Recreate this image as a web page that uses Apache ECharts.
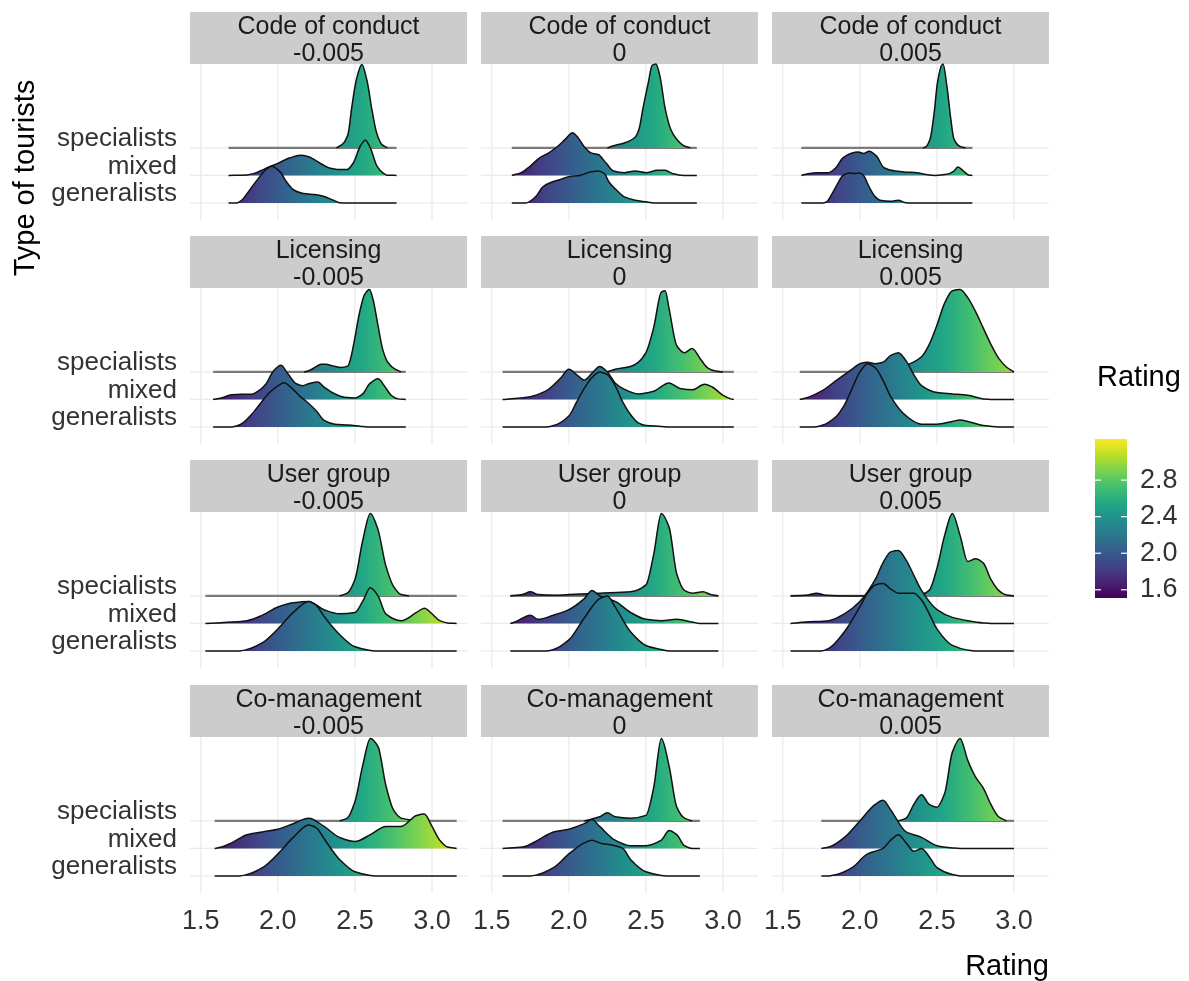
<!DOCTYPE html>
<html>
<head>
<meta charset="utf-8">
<script src="https://cdn.jsdelivr.net/npm/echarts@6/dist/echarts.min.js"></script>
<style>
html,body{margin:0;padding:0;background:#fff}
#chart{width:1189px;height:981px}
</style>
</head>
<body>
<div id="chart"></div>
<script>
// ---- categories and labels ----
const measures = ['Code of conduct', 'Licensing', 'User group', 'Co-management'];
const levels = ['-0.005', '0', '0.005'];
const groups = ['generalists', 'mixed', 'specialists'];   // ridge rows 1, 2, 3
const xTicks = [1.5, 2.0, 2.5, 3.0];
const legendTicks = [1.6, 2.0, 2.4, 2.8];
const ratingMin = 1.51, ratingMax = 3.25;

// ---- density ridges: [rating, height in row units] ----
// Code of conduct
const cocNegGen  = [[1.68,0],[1.735,0],[1.77,0.12],[1.8,0.34],[1.865,0.83],[1.93,1.25],[1.96,1.33],[2.014,1.13],[2.057,0.76],[2.1,0.48],[2.165,0.34],[2.25,0.3],[2.29,0.25],[2.36,0.1],[2.4,0.01],[2.45,0],[2.77,0]];
const cocNegMix  = [[1.68,0],[1.8,0.02],[1.85,0.08],[1.9,0.2],[1.95,0.33],[1.993,0.42],[2.04,0.55],[2.079,0.64],[2.144,0.73],[2.2,0.68],[2.229,0.6],[2.294,0.38],[2.34,0.26],[2.385,0.22],[2.45,0.22],[2.49,0.46],[2.535,1.07],[2.567,1.28],[2.6,1.0],[2.643,0.34],[2.68,0.1],[2.71,0.01],[2.77,0]];
const cocNegSpec = [[1.68,0],[2.38,0],[2.42,0.14],[2.455,0.5],[2.48,1.5],[2.51,2.5],[2.545,3.03],[2.578,2.45],[2.61,1.4],[2.64,0.56],[2.675,0.12],[2.71,0],[2.77,0]];
const coc0Gen  = [[1.63,0],[1.72,0],[1.784,0.22],[1.83,0.58],[1.89,0.76],[1.95,0.86],[2.0,0.95],[2.07,1.0],[2.144,1.13],[2.19,1.16],[2.23,1.07],[2.26,0.76],[2.31,0.46],[2.36,0.22],[2.43,0.1],[2.5,0.04],[2.55,0],[2.83,0]];
const coc0Mix  = [[1.63,0],[1.69,0.1],[1.75,0.34],[1.81,0.64],[1.87,0.82],[1.93,1.07],[1.976,1.31],[2.024,1.55],[2.06,1.37],[2.096,1.07],[2.144,0.82],[2.19,0.76],[2.24,0.46],[2.29,0.16],[2.36,0.1],[2.43,0.16],[2.5,0.1],[2.576,0.19],[2.625,0.19],[2.67,0.07],[2.745,0],[2.83,0]];
const coc0Spec = [[1.63,0],[2.25,0],[2.29,0.08],[2.36,0.18],[2.43,0.39],[2.456,0.7],[2.48,1.42],[2.516,2.39],[2.54,3.0],[2.565,3.05],[2.59,2.63],[2.625,1.42],[2.66,0.69],[2.697,0.33],[2.745,0.08],[2.79,0],[2.83,0]];
const cocPosGen  = [[1.62,0],[1.76,0],[1.784,0.04],[1.82,0.34],[1.856,0.7],[1.89,1.0],[1.93,1.09],[1.964,1.07],[2.0,1.09],[2.024,1.0],[2.06,0.58],[2.1,0.22],[2.13,0.1],[2.2,0.06],[2.25,0.1],[2.29,0.02],[2.32,0],[2.73,0]];
const cocPosMix  = [[1.62,0],[1.65,0.04],[1.72,0.1],[1.796,0.1],[1.844,0.28],[1.89,0.64],[1.94,0.8],[1.99,0.85],[2.024,0.8],[2.06,0.88],[2.108,0.7],[2.156,0.28],[2.23,0.16],[2.3,0.12],[2.37,0.1],[2.42,0.04],[2.49,0],[2.564,0.04],[2.61,0.16],[2.636,0.31],[2.672,0.16],[2.708,0.01],[2.73,0]];
const cocPosSpec = [[1.62,0],[2.41,0],[2.43,0.05],[2.456,0.33],[2.48,1.18],[2.504,2.39],[2.53,3.0],[2.54,3.05],[2.564,2.27],[2.59,1.05],[2.61,0.33],[2.65,0.05],[2.685,0],[2.73,0]];
// Licensing
const licNegGen  = [[1.58,0],[1.7,0],[1.76,0.1],[1.83,0.46],[1.89,0.88],[1.946,1.25],[2.0,1.49],[2.04,1.61],[2.087,1.43],[2.14,1.13],[2.195,0.88],[2.25,0.58],[2.3,0.24],[2.37,0.1],[2.455,0.07],[2.54,0.02],[2.58,0],[2.83,0]];
const licNegMix  = [[1.58,0],[1.632,0.05],[1.7,0.17],[1.76,0.19],[1.83,0.19],[1.88,0.33],[1.924,0.57],[1.967,1.0],[2.02,1.24],[2.065,0.93],[2.12,0.57],[2.16,0.5],[2.2,0.57],[2.26,0.63],[2.3,0.45],[2.37,0.2],[2.43,0.08],[2.5,0.05],[2.55,0.2],[2.595,0.57],[2.65,0.75],[2.69,0.5],[2.736,0.15],[2.78,0.02],[2.83,0]];
const licNegSpec = [[1.58,0],[2.17,0],[2.195,0.03],[2.24,0.16],[2.28,0.28],[2.31,0.28],[2.357,0.22],[2.41,0.16],[2.455,0.22],[2.476,0.58],[2.498,1.19],[2.53,2.16],[2.563,2.82],[2.595,3.0],[2.617,2.64],[2.65,1.67],[2.68,0.82],[2.714,0.34],[2.76,0.1],[2.8,0],[2.83,0]];
const lic0Gen  = [[1.57,0],[1.85,0],[1.9,0.05],[2.0,0.4],[2.05,0.9],[2.1,1.4],[2.15,1.8],[2.2,2.0],[2.25,1.9],[2.3,1.5],[2.35,0.9],[2.4,0.45],[2.45,0.15],[2.5,0.05],[2.6,0.02],[2.65,0],[3.07,0]];
const lic0Mix  = [[1.57,0],[1.65,0.03],[1.75,0.1],[1.85,0.3],[1.95,0.8],[2.0,1.1],[2.05,0.9],[2.1,0.7],[2.15,0.95],[2.2,1.2],[2.25,1.0],[2.3,0.6],[2.35,0.4],[2.45,0.2],[2.55,0.3],[2.65,0.6],[2.72,0.4],[2.8,0.35],[2.88,0.55],[2.93,0.45],[3.0,0.15],[3.05,0.02],[3.07,0]];
const lic0Spec = [[1.57,0],[2.25,0],[2.3,0.1],[2.4,0.2],[2.45,0.35],[2.5,0.7],[2.55,1.6],[2.6,2.9],[2.625,2.95],[2.65,2.3],[2.7,0.95],[2.75,0.7],[2.8,0.85],[2.85,0.5],[2.9,0.15],[2.95,0.03],[3.0,0],[3.07,0]];
const licPosGen  = [[1.61,0],[1.7,0],[1.75,0.05],[1.85,0.4],[1.9,0.8],[1.95,1.4],[2.0,2.0],[2.05,2.3],[2.1,2.15],[2.15,1.7],[2.2,1.1],[2.3,0.4],[2.4,0.1],[2.5,0.1],[2.6,0.2],[2.65,0.25],[2.7,0.2],[2.8,0.05],[2.9,0],[3.0,0]];
const licPosMix  = [[1.61,0],[1.65,0.05],[1.75,0.3],[1.85,0.7],[1.95,1.1],[2.0,1.3],[2.05,1.35],[2.1,1.3],[2.15,1.35],[2.2,1.6],[2.25,1.7],[2.3,1.4],[2.35,0.9],[2.4,0.5],[2.5,0.25],[2.6,0.2],[2.7,0.15],[2.8,0.02],[2.85,0],[3.0,0]];
const licPosSpec = [[1.61,0],[2.0,0],[2.1,0.05],[2.2,0.15],[2.3,0.25],[2.4,0.55],[2.45,1.0],[2.5,1.7],[2.55,2.5],[2.6,2.95],[2.65,3.0],[2.7,2.7],[2.75,2.2],[2.8,1.6],[2.85,1.0],[2.9,0.5],[2.95,0.18],[3.0,0]];
// User group
const ugNegGen  = [[1.53,0],[1.75,0],[1.8,0.05],[1.9,0.3],[2.0,0.8],[2.1,1.4],[2.2,1.8],[2.25,1.65],[2.3,1.25],[2.4,0.6],[2.5,0.15],[2.6,0.02],[2.65,0],[3.16,0]];
const ugNegMix  = [[1.53,0],[1.6,0.02],[1.7,0.05],[1.8,0.1],[1.9,0.3],[2.0,0.6],[2.1,0.75],[2.2,0.8],[2.3,0.5],[2.4,0.35],[2.5,0.4],[2.55,0.8],[2.6,1.3],[2.65,1.0],[2.7,0.35],[2.8,0.1],[2.9,0.4],[2.95,0.55],[3.0,0.35],[3.05,0.1],[3.1,0.02],[3.16,0]];
const ugNegSpec = [[1.53,0],[2.4,0],[2.45,0.1],[2.5,0.6],[2.55,2.0],[2.6,3.0],[2.65,2.4],[2.7,1.1],[2.75,0.35],[2.8,0.05],[2.85,0],[3.16,0]];
const ug0Gen  = [[1.62,0],[1.85,0],[1.9,0.05],[2.0,0.4],[2.1,1.2],[2.2,1.9],[2.25,2.0],[2.3,1.6],[2.4,0.7],[2.5,0.2],[2.6,0.05],[2.65,0],[2.97,0]];
const ug0Mix  = [[1.62,0],[1.65,0.05],[1.75,0.3],[1.8,0.15],[1.9,0.3],[2.0,0.5],[2.1,0.9],[2.15,1.2],[2.2,1.0],[2.25,0.9],[2.3,0.8],[2.4,0.4],[2.5,0.15],[2.6,0.1],[2.7,0.15],[2.8,0.05],[2.85,0],[2.97,0]];
const ug0Spec = [[1.62,0],[1.7,0.05],[1.75,0.15],[1.8,0.05],[1.9,0.02],[2.0,0.05],[2.2,0.1],[2.4,0.15],[2.5,0.4],[2.55,1.5],[2.6,3.0],[2.65,2.5],[2.7,0.8],[2.75,0.2],[2.8,0.1],[2.87,0.15],[2.92,0.05],[2.97,0]];
const ugPosGen  = [[1.55,0],[1.75,0],[1.8,0.1],[1.9,0.7],[2.0,1.6],[2.05,2.1],[2.1,2.4],[2.15,2.45],[2.2,2.25],[2.25,2.1],[2.3,2.1],[2.35,2.1],[2.4,1.85],[2.45,1.35],[2.5,0.8],[2.6,0.2],[2.7,0.03],[2.75,0],[3.0,0]];
const ugPosMix  = [[1.55,0],[1.65,0.05],[1.8,0.1],[1.9,0.35],[2.0,0.8],[2.1,1.6],[2.15,2.2],[2.2,2.6],[2.25,2.65],[2.3,2.3],[2.35,1.75],[2.4,1.2],[2.5,0.5],[2.6,0.22],[2.7,0.1],[2.8,0.02],[2.85,0],[3.0,0]];
const ugPosSpec = [[1.55,0],[1.65,0.02],[1.72,0.1],[1.78,0.02],[1.9,0],[2.3,0],[2.4,0.05],[2.45,0.2],[2.5,1.0],[2.55,2.2],[2.6,3.0],[2.65,2.2],[2.7,1.25],[2.75,1.35],[2.8,1.2],[2.85,0.6],[2.9,0.2],[2.95,0.03],[3.0,0]];
// Co-management
const cmNegGen  = [[1.59,0],[1.75,0],[1.8,0.05],[1.9,0.3],[2.0,0.8],[2.1,1.4],[2.2,1.85],[2.25,1.75],[2.3,1.35],[2.4,0.6],[2.5,0.15],[2.6,0.02],[2.65,0],[3.16,0]];
const cmNegMix  = [[1.59,0],[1.62,0.03],[1.7,0.2],[1.8,0.5],[1.9,0.6],[2.0,0.7],[2.1,0.9],[2.2,1.1],[2.3,0.8],[2.4,0.4],[2.5,0.25],[2.6,0.5],[2.7,0.8],[2.8,0.8],[2.9,1.2],[2.95,1.25],[3.0,0.8],[3.05,0.3],[3.1,0.05],[3.16,0]];
const cmNegSpec = [[1.59,0],[2.4,0],[2.45,0.1],[2.5,0.7],[2.55,2.0],[2.6,3.0],[2.65,2.7],[2.7,1.3],[2.75,0.4],[2.8,0.1],[2.9,0],[3.16,0]];
const cm0Gen  = [[1.57,0],[1.75,0],[1.8,0.05],[1.9,0.3],[2.0,0.8],[2.1,1.2],[2.15,1.3],[2.2,1.2],[2.3,1.1],[2.35,1.0],[2.4,0.6],[2.5,0.15],[2.6,0.02],[2.65,0],[2.85,0]];
const cm0Mix  = [[1.57,0],[1.7,0.05],[1.8,0.3],[1.9,0.6],[2.0,0.7],[2.1,0.9],[2.15,1.05],[2.2,0.8],[2.3,0.3],[2.4,0.1],[2.5,0.1],[2.6,0.3],[2.65,0.65],[2.7,0.5],[2.75,0.1],[2.8,0],[2.85,0]];
const cm0Spec = [[1.57,0],[2.1,0],[2.2,0.15],[2.25,0.3],[2.3,0.15],[2.4,0.1],[2.5,0.2],[2.55,1.2],[2.6,3.0],[2.65,2.0],[2.7,0.5],[2.75,0.1],[2.8,0],[2.85,0]];
const cmPosGen  = [[1.75,0],[1.8,0],[1.85,0.05],[1.95,0.3],[2.05,0.8],[2.1,0.9],[2.15,1.0],[2.2,1.3],[2.25,1.5],[2.3,1.2],[2.35,0.9],[2.4,1.0],[2.45,0.7],[2.5,0.3],[2.6,0.05],[2.65,0],[3.0,0]];
const cmPosMix  = [[1.75,0],[1.8,0.05],[1.9,0.4],[2.0,1.0],[2.1,1.6],[2.15,1.75],[2.2,1.4],[2.3,0.6],[2.35,0.5],[2.4,0.4],[2.5,0.1],[2.6,0.02],[2.65,0],[3.0,0]];
const cmPosSpec = [[1.75,0],[2.25,0],[2.3,0.1],[2.35,0.6],[2.4,0.95],[2.45,0.6],[2.5,0.5],[2.55,1.0],[2.6,2.5],[2.65,3.0],[2.7,2.2],[2.75,1.6],[2.8,1.2],[2.85,0.6],[2.9,0.15],[2.95,0],[3.0,0]];

// panels, row by row; curves ordered as in `groups`
const panelCurves = [
  [[cocNegGen, cocNegMix, cocNegSpec], [coc0Gen, coc0Mix, coc0Spec], [cocPosGen, cocPosMix, cocPosSpec]],
  [[licNegGen, licNegMix, licNegSpec], [lic0Gen, lic0Mix, lic0Spec], [licPosGen, licPosMix, licPosSpec]],
  [[ugNegGen, ugNegMix, ugNegSpec], [ug0Gen, ug0Mix, ug0Spec], [ugPosGen, ugPosMix, ugPosSpec]],
  [[cmNegGen, cmNegMix, cmNegSpec], [cm0Gen, cm0Mix, cm0Spec], [cmPosGen, cmPosMix, cmPosSpec]]
];

// ---- look ----
const viridis = ['#440154','#482475','#414487','#355f8d','#2a788e','#21918c','#22a884','#44bf70','#7ad151','#bddf26','#fde725'];
const FONT = '"Liberation Sans", Arial, sans-serif';
const colLeft = [190, 481, 772];
const panelW = 277;
const rowTop = [12, 236, 460, 685];
const stripH = 52;
const plotH = 156;
const xMin = 1.43, xMax = 3.227;
const yMin = 0.38, yMax = 6.05;

function viridisStops() {
  return viridis.map((c, i) => ({ offset: i / (viridis.length - 1), color: c }));
}

// monotone cubic path through pixel points (x increasing)
function monoPath(pts) {
  const n = pts.length;
  if (n < 2) return '';
  const dx = [], m = [];
  for (let i = 0; i < n - 1; i++) {
    dx[i] = pts[i + 1][0] - pts[i][0];
    m[i] = (pts[i + 1][1] - pts[i][1]) / dx[i];
  }
  const t = [m[0]];
  for (let i = 1; i < n - 1; i++) {
    if (m[i - 1] * m[i] <= 0) t[i] = 0;
    else t[i] = 3 * (dx[i - 1] + dx[i]) / ((2 * dx[i] + dx[i - 1]) / m[i - 1] + (dx[i] + 2 * dx[i - 1]) / m[i]);
  }
  t[n - 1] = m[n - 2];
  let d = 'M' + pts[0][0].toFixed(2) + ' ' + pts[0][1].toFixed(2);
  for (let i = 0; i < n - 1; i++) {
    const h = dx[i] / 3;
    d += ' C' + (pts[i][0] + h).toFixed(2) + ' ' + (pts[i][1] + t[i] * h).toFixed(2) + ' ' +
         (pts[i + 1][0] - h).toFixed(2) + ' ' + (pts[i + 1][1] - t[i + 1] * h).toFixed(2) + ' ' +
         pts[i + 1][0].toFixed(2) + ' ' + pts[i + 1][1].toFixed(2);
  }
  return d;
}

const grids = [], xAxes = [], yAxes = [], series = [], graphics = [];

panelCurves.forEach((row, r) => {
  row.forEach((curves, c) => {
    const gi = grids.length;
    const left = colLeft[c], top = rowTop[r];
    grids.push({ left: left, top: top + stripH, width: panelW, height: plotH });
    xAxes.push({ gridIndex: gi, type: 'value', min: xMin, max: xMax, show: false });
    yAxes.push({ gridIndex: gi, type: 'value', min: yMin, max: yMax, show: false });

    // facet strip
    graphics.push({ type: 'rect', shape: { x: left, y: top, width: panelW, height: stripH }, style: { fill: '#cccccc' }, silent: true });
    graphics.push({ type: 'text', x: left + panelW / 2, y: top + 15.5, style: { text: measures[r], fill: '#1a1a1a', font: '25px ' + FONT, align: 'center', verticalAlign: 'middle' }, silent: true });
    graphics.push({ type: 'text', x: left + panelW / 2, y: top + 42, style: { text: levels[c], fill: '#1a1a1a', font: '25px ' + FONT, align: 'center', verticalAlign: 'middle' }, silent: true });

    const showY = c === 0, showX = r === panelCurves.length - 1;

    // grid lines and axis labels
    series.push({
      type: 'custom', xAxisIndex: gi, yAxisIndex: gi, z: 1, silent: true, clip: false,
      data: [[xMin, yMin]],
      renderItem: (params, api) => {
        const cs = params.coordSys;
        const kids = [];
        xTicks.forEach(t => {
          const px = api.coord([t, yMin])[0];
          kids.push({ type: 'line', shape: { x1: px, y1: cs.y, x2: px, y2: cs.y + cs.height }, style: { stroke: '#ebebeb', lineWidth: 1.3 } });
          if (showX) {
            kids.push({ type: 'text', x: px, y: 922, style: { text: t.toFixed(1), fill: '#333333', font: '27px ' + FONT, align: 'center', verticalAlign: 'middle' } });
          }
        });
        groups.forEach((g, k) => {
          const py = api.coord([xMin, k + 1])[1];
          kids.push({ type: 'line', shape: { x1: cs.x, y1: py, x2: cs.x + cs.width, y2: py }, style: { stroke: '#ebebeb', lineWidth: 1.3 } });
          if (showY) {
            kids.push({ type: 'text', x: cs.x - 13, y: py - 9, style: { text: g, fill: '#333333', font: '26px ' + FONT, align: 'right', verticalAlign: 'middle' } });
          }
        });
        return { type: 'group', children: kids };
      }
    });

    // ridges: specialists first so lower rows overlap them
    series.push({
      type: 'custom', xAxisIndex: gi, yAxisIndex: gi, z: 3, silent: true, clip: false,
      data: [[xMin, 3], [xMin, 2], [xMin, 1]],
      renderItem: (params, api) => {
        const base = api.value(1);
        const k = base - 1;
        const layer = (3 - k) * 10;          // lower ridges stack above upper ones
        const curve = curves[k];
        const pts = curve.map(p => api.coord([p[0], base + p[1]]));
        const by = api.coord([xMin, base])[1];
        const gx0 = api.coord([ratingMin, base])[0];
        const gx1 = api.coord([ratingMax, base])[0];
        const fill = new echarts.graphic.LinearGradient(gx0, 0, gx1, 0, viridisStops(), true);
        const n = pts.length;
        const areaD = monoPath(pts) + ' L' + pts[n - 1][0].toFixed(2) + ' ' + by.toFixed(2) +
                      ' L' + pts[0][0].toFixed(2) + ' ' + by.toFixed(2) + ' Z';
        const kids = [];
        let outlinePts = pts;
        if (k === 2) {
          // specialists: grey flat baseline, dark outline over the hump
          kids.push({ type: 'line', shape: { x1: pts[0][0], y1: by, x2: pts[n - 1][0], y2: by }, style: { stroke: '#7a7a7a', lineWidth: 2.4 }, z2: layer + 1 });
          const i0 = curve.findIndex(p => p[1] > 0);
          const i1 = n - 1 - curve.slice().reverse().findIndex(p => p[1] > 0);
          outlinePts = pts.slice(Math.max(0, i0 - 1), Math.min(n, i1 + 2));
        }
        kids.push({ type: 'path', shape: { pathData: areaD }, style: { fill: fill, stroke: null }, z2: layer + 2 });
        kids.push({ type: 'path', shape: { pathData: monoPath(outlinePts) }, style: { fill: null, stroke: '#111111', lineWidth: 1.5 }, z2: layer + 3 });
        return { type: 'group', children: kids };
      }
    });
  });
});

// axis titles
graphics.push({ type: 'text', x: 26, y: 178, rotation: Math.PI / 2, style: { text: 'Type of tourists', fill: '#000', font: '29px ' + FONT, align: 'center', verticalAlign: 'middle' }, silent: true });
graphics.push({ type: 'text', x: 1049, y: 967, style: { text: 'Rating', fill: '#000', font: '29px ' + FONT, align: 'right', verticalAlign: 'middle' }, silent: true });

// colour bar
const barX = 1095, barY = 439, barW = 32, barH = 159;
graphics.push({ type: 'text', x: 1097, y: 378, style: { text: 'Rating', fill: '#000', font: '29px ' + FONT, align: 'left', verticalAlign: 'middle' }, silent: true });
graphics.push({ type: 'rect', shape: { x: barX, y: barY, width: barW, height: barH }, style: { fill: new echarts.graphic.LinearGradient(0, 1, 0, 0, viridisStops()) }, silent: true });
legendTicks.forEach(v => {
  const y = barY + barH - (v - ratingMin) / (ratingMax - ratingMin) * barH;
  graphics.push({ type: 'line', shape: { x1: barX, y1: y, x2: barX + 6, y2: y }, style: { stroke: '#ffffff', lineWidth: 1.2 }, silent: true });
  graphics.push({ type: 'line', shape: { x1: barX + barW - 6, y1: y, x2: barX + barW, y2: y }, style: { stroke: '#ffffff', lineWidth: 1.2 }, silent: true });
  graphics.push({ type: 'text', x: 1140, y: y, style: { text: v.toFixed(1), fill: '#333333', font: '27px ' + FONT, align: 'left', verticalAlign: 'middle' }, silent: true });
});

const chart = echarts.init(document.getElementById('chart'), null, { renderer: 'canvas' });
chart.setOption({
  animation: false,
  backgroundColor: '#ffffff',
  grid: grids,
  xAxis: xAxes,
  yAxis: yAxes,
  series: series,
  graphic: graphics
});
</script>
</body>
</html>
